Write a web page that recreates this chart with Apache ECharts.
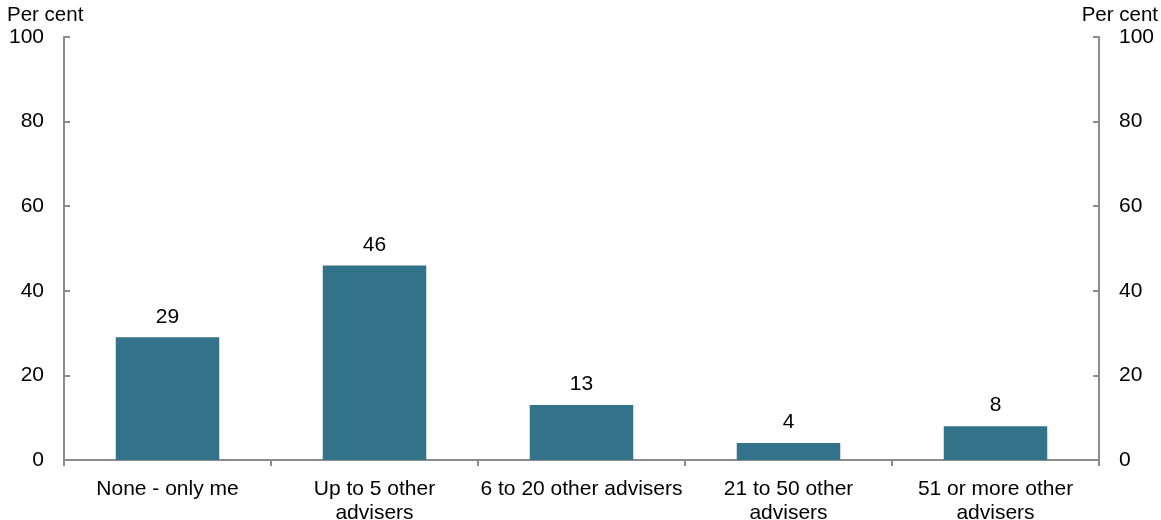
<!DOCTYPE html>
<html><head><meta charset="utf-8">
<script src="https://cdn.jsdelivr.net/npm/echarts@6/dist/echarts.min.js"></script>
<style>html,body{margin:0;padding:0;background:#fff}#c{width:1161px;height:520px}</style>
</head><body><div id="c"></div>
<script>
const categories = ['None - only me', 'Up to 5 other\nadvisers', '6 to 20 other advisers', '21 to 50 other\nadvisers', '51 or more other\nadvisers'];
const values = [29, 46, 13, 4, 8];
const yTicks = [0, 20, 40, 60, 80, 100];

const font = 'Liberation Sans, Arial, sans-serif';
const axisColor = '#8c8c8c';
const chart = echarts.init(document.getElementById('c'), null, {renderer: 'canvas'});
const yAxisBase = (pos) => ({
  type: 'value', position: pos, min: 0, max: 100, interval: 20,
  axisLine: {show: true, lineStyle: {color: axisColor, width: 2}},
  axisTick: {show: true, inside: true, length: 6, lineStyle: {color: axisColor, width: 2}},
  splitLine: {show: false},
  axisLabel: {color: '#000', fontSize: 21, fontFamily: font, margin: 20,
    formatter: v => yTicks.includes(v) ? String(v) : ''}
});
chart.setOption({
  animation: false,
  grid: {left: 64, right: 62, top: 37, bottom: 60, containLabel: false, outerBoundsMode: 'none'},
  graphic: [
    {type: 'text', left: 7, top: 5, style: {text: 'Per cent', fontSize: 20.5, fontFamily: font, fill: '#000'}},
    {type: 'text', right: 3, top: 5, style: {text: 'Per cent', fontSize: 20.5, fontFamily: font, fill: '#000'}}
  ],
  xAxis: {
    type: 'category', data: categories,
    axisLine: {show: true, lineStyle: {color: axisColor, width: 2}},
    axisTick: {show: true, length: 6, lineStyle: {color: axisColor, width: 2}, alignWithLabel: false},
    axisLabel: {color: '#000', fontSize: 21, fontFamily: font, margin: 17, lineHeight: 24, interval: 0}
  },
  yAxis: [yAxisBase('left'), yAxisBase('right')],
  series: [{
    type: 'bar', data: values, barWidth: '50%', yAxisIndex: 0,
    itemStyle: {color: '#32738a'},
    label: {show: true, position: 'top', distance: 10, color: '#000', fontSize: 21, fontFamily: font}
  }]
});
</script></body></html>
